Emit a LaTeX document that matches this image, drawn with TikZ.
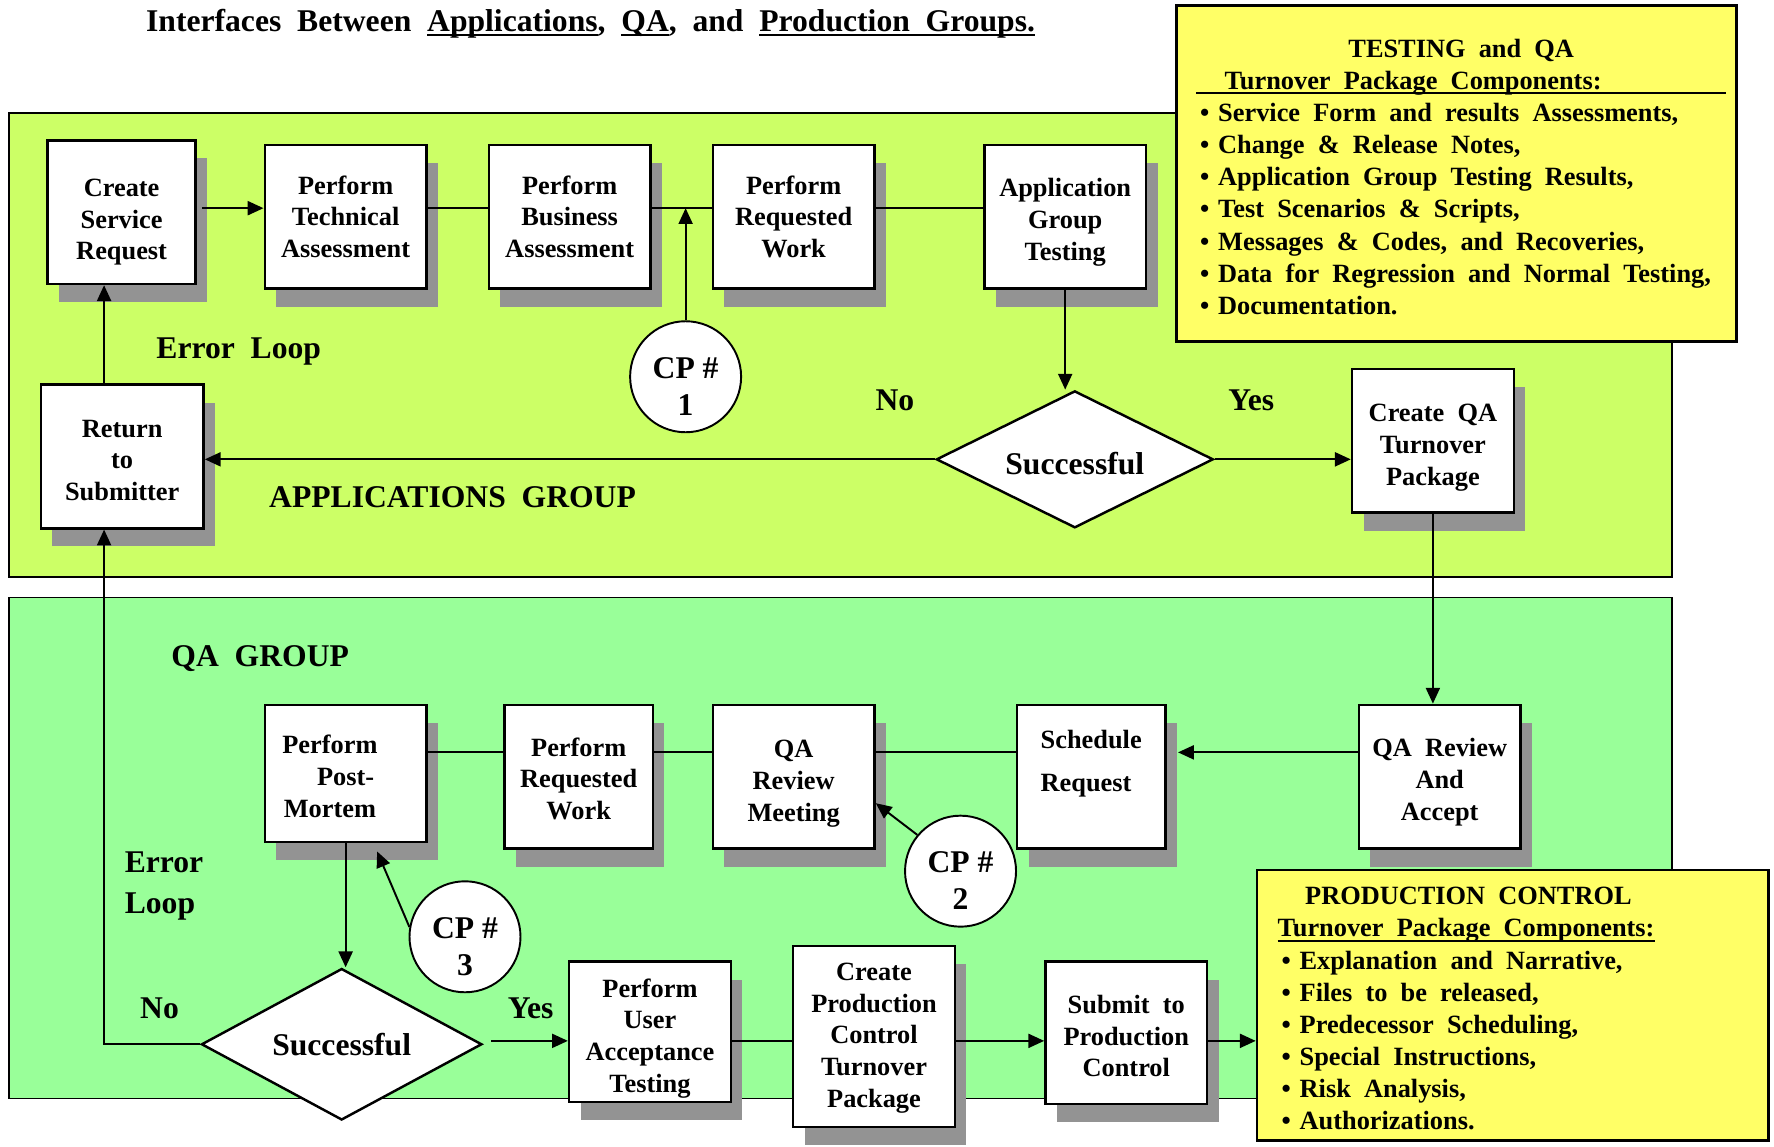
\documentclass[tikz,border=0pt]{standalone}
\usepackage{fontspec}
\setmainfont{Liberation Serif}[WordSpace=2]
\usetikzlibrary{shapes.geometric,shadows,arrows.meta}
\definecolor{applime}{HTML}{CCFF66}
\definecolor{qagreen}{HTML}{99FF99}
\definecolor{noteyellow}{HTML}{FFFF66}
\definecolor{shadowgray}{HTML}{939393}
\newcommand\boxfont{\fontsize{15}{18}\selectfont\bfseries}
\newcommand\bigfont{\fontsize{18}{21}\selectfont\bfseries}
\newcommand\notefont{\fontsize{15}{18.3}\selectfont\bfseries}
\newcommand\pkgitem{\makebox[0.44cm][l]{\hspace{0.08cm}\textbullet}}
\newcommand\thickul[1]{\leavevmode\setbox0=\hbox{#1}\rlap{\rule[-2.8pt]{\wd0}{1.2pt}}\box0}
\newcommand\droptop[1]{\rule{0pt}{#1}}

\begin{document}
\begin{tikzpicture}[x=0.022628cm, y=-0.022628cm, font=\boxfont,
  panel/.style={draw, line width=1.1pt, inner sep=0pt},
  notebox/.style={draw, line width=1.4pt, fill=noteyellow, inner sep=0pt},
  notetext/.style={anchor=north west, align=left, inner sep=0pt, font=\notefont},
  stepbox/.style={draw, line width=1.4pt, fill=white, align=center, inner sep=2pt,
    minimum width=3.236cm, minimum height=2.874cm,
    drop shadow={shadow xshift=0.23cm, shadow yshift=-0.36cm, fill=shadowgray, opacity=1}},
  decision/.style={draw, diamond, aspect=2, line width=1.4pt, fill=white, inner sep=0pt, font=\bigfont},
  checkpoint/.style={draw, circle, line width=1.1pt, fill=white, align=center,
    minimum size=2.22cm, inner sep=0pt, font=\bigfont},
  caption/.style={font=\bigfont, align=left, inner sep=0pt},
  link/.style={line width=1.1pt},
  transfer/.style={link, -{Triangle[length=9pt, width=8pt]}},
]
\useasboundingbox (0,0) rectangle (1568,1013);

% group panels
\node[panel, fill=applime, minimum width=33.26cm, minimum height=9.28cm] (appspanel) at (743,305) {};
\node[panel, fill=qagreen, minimum width=33.26cm, minimum height=10.02cm] (qapanel) at (743,749.5) {};

\node[inner sep=0pt, font=\fontsize{18}{21}\selectfont\bfseries] (title) at (522,21)
  {Interfaces Between \thickul{Applications}, \thickul{QA}, and \thickul{Production Groups.}};

% testing and QA components
\node[notebox, minimum width=11.20cm, minimum height=6.72cm] (testbox) at (1287.5,153.5) {};
\node[notetext] (testlist) at (1057,34) {\makebox[10.6cm]{TESTING and QA}\\
  \thickul{\makebox[10.6cm][l]{\hspace{0.57cm}Turnover Package Components:}}\\
  \pkgitem Service Form and results Assessments,\\
  \pkgitem Change \& Release Notes,\\
  \pkgitem Application Group Testing Results,\\
  \pkgitem Test Scenarios \& Scripts,\\
  \pkgitem Messages \& Codes, and Recoveries,\\
  \pkgitem Data for Regression and Normal Testing,\\
  \pkgitem Documentation.};

% applications group
\node[stepbox, minimum width=2.964cm] (request) at (107.5,187.5) {\droptop{21.5pt}Create\\Service\\Request};
\node[stepbox] (techassess) at (305.5,191.5) {Perform\\Technical\\Assessment};
\node[stepbox] (busassess) at (503.5,191.5) {Perform\\Business\\Assessment};
\node[stepbox] (appwork) at (701.5,191.5) {Perform\\Requested\\Work};
\node[stepbox] (apptest) at (941.5,191.5) {\droptop{16.7pt}Application\\Group\\Testing};
\node[stepbox] (qapackage) at (1266.5,389.5) {\droptop{18pt}Create QA\\Turnover\\Package};
\node[stepbox, minimum width=3.258cm] (giveback) at (108,403.5) {\droptop{14pt}Return\\to\\Submitter};
\node[decision, minimum width=5.54cm, minimum height=2.74cm] (appcheck) at (950,406) {\droptop{17pt}Successful};
\node[checkpoint] (cp1) at (606,333) {\droptop{23pt}CP\hspace{0.25em}\#\\1};
\node[caption] (apperror) at (211,311) {Error Loop};
\node[caption] (appno) at (791,354) {No};
\node[caption] (appyes) at (1106,354) {Yes};
\node[caption] (appname) at (400,439) {APPLICATIONS GROUP};

% QA group
\node[stepbox, minimum height=2.738cm] (postmortem) at (305.5,683.5)
  {\droptop{14pt}Perform\hspace*{0.63cm}\\Post-\hspace*{0.63cm}\\Mortem\hspace*{0.63cm}};
\node[stepbox, minimum width=2.964cm] (qawork) at (511.5,686.5) {\droptop{13pt}Perform\\Requested\\Work};
\node[stepbox] (review) at (701.5,686.5) {\droptop{18pt}QA\\Review\\Meeting};
\node[stepbox, minimum width=2.964cm, align=left] (schedule) at (964.5,686.5) {Schedule\\[7pt]Request\\\mbox{}};
\node[stepbox] (accept) at (1272.5,686.5) {\droptop{16.7pt}QA Review\\And\\Accept};
\node[decision, minimum width=5.61cm, minimum height=3.03cm] (qacheck) at (302,923) {Successful};
\node[stepbox, minimum height=2.806cm] (useraccept) at (574.5,912) {\droptop{18pt}Perform\\User\\Acceptance\\Testing};
\node[stepbox, minimum height=3.62cm] (prodpackage) at (772.5,916) {\droptop{12pt}Create\\Production\\Control\\Turnover\\Package};
\node[stepbox, minimum height=2.851cm] (submit) at (995.5,913) {\droptop{14pt}Submit to\\Production\\Control};
\node[checkpoint] (cp2) at (849,770) {\droptop{23pt}CP\hspace{0.25em}\#\\2};
\node[checkpoint] (cp3) at (411,828) {\droptop{23pt}CP\hspace{0.25em}\#\\3};
\node[caption] (qaname) at (230,582) {QA GROUP};
\node[caption, anchor=west] (qaerror) at (110,783) {Error\\[2pt]Loop};
\node[caption] (qano) at (141,891) {No};
\node[caption] (qayes) at (469,891) {Yes};

% production control components
\node[notebox, minimum width=10.23cm, minimum height=5.41cm] (prodbox) at (1337,888.5) {};
\node[notetext] (prodlist) at (1129,784) {\makebox[7.63cm]{PRODUCTION CONTROL}\\
  \thickul{Turnover Package Components:}\\
  \pkgitem Explanation and Narrative,\\
  \pkgitem Files to be released,\\
  \pkgitem Predecessor Scheduling,\\
  \pkgitem Special Instructions,\\
  \pkgitem Risk Analysis,\\
  \pkgitem Authorizations.};

\coordinate (rowA) at (0,184);
\coordinate (rowC) at (0,665);
\coordinate (rowD) at (0,920);
\coordinate (loopx) at (92,0);

\draw[transfer] ([xshift=0.11cm]request.east |- rowA) -- (techassess.west |- rowA);
\draw[link] (techassess.east |- rowA) -- (busassess.west |- rowA);
\draw[link] (busassess.east |- rowA) -- (appwork.west |- rowA);
\draw[link] (appwork.east |- rowA) -- (apptest.west |- rowA);
\draw[transfer] (cp1.north) -- (cp1.north |- rowA);
\draw[transfer] (apptest.south) -- (apptest.south |- appcheck.north);
\draw[transfer] (appcheck.west) -- (giveback.east |- appcheck.west);
\draw[transfer] (appcheck.east) -- (qapackage.west |- appcheck.east);
\draw[transfer] (loopx |- giveback.north) -- (loopx |- request.south);
\draw[transfer] (qapackage.south) -- (qapackage.south |- accept.north);

\draw[transfer] (accept.west |- rowC) -- ([xshift=0.23cm]schedule.east |- rowC);
\draw[link] (schedule.west |- rowC) -- (review.east |- rowC);
\draw[link] (review.west |- rowC) -- (qawork.east |- rowC);
\draw[link] (qawork.west |- rowC) -- (postmortem.east |- rowC);
\draw[transfer] (cp2.140) -- ([yshift=-0.53cm]review.east);
\draw[transfer] (cp3.170) -- ([xshift=0.63cm, yshift=-0.17cm]postmortem.south);
\draw[transfer] (postmortem.south) -- (postmortem.south |- qacheck.north);
\draw[transfer] (qacheck.west) -| (loopx |- giveback.south);
\draw[transfer] ([xshift=0.16cm]qacheck.east |- rowD) -- (useraccept.west |- rowD);
\draw[link] (useraccept.east |- rowD) -- (prodpackage.west |- rowD);
\draw[transfer] (prodpackage.east |- rowD) -- (submit.west |- rowD);
\draw[transfer] (submit.east |- rowD) -- (prodbox.west |- rowD);
\end{tikzpicture}
\end{document}
